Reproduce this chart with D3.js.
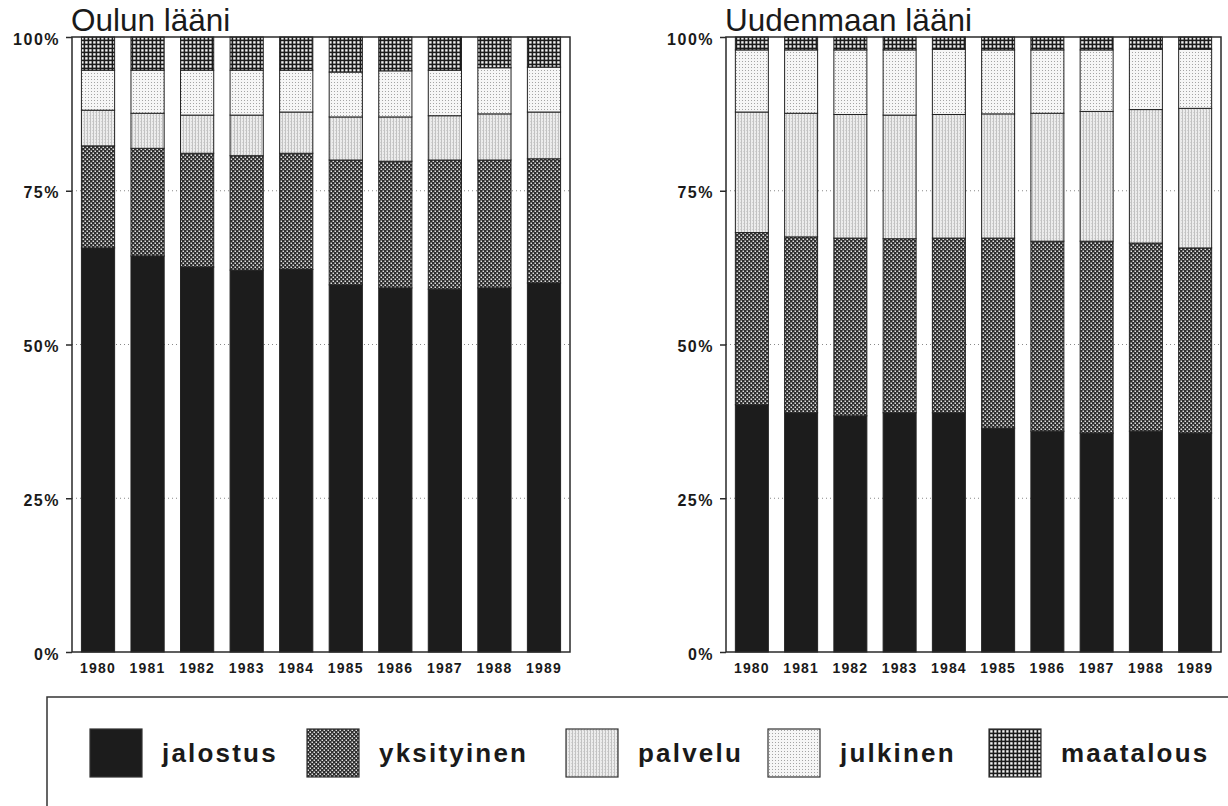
<!DOCTYPE html>
<html>
<head>
<meta charset="utf-8">
<script src="https://cdn.jsdelivr.net/npm/d3@7"></script>
<style>
  html, body { margin: 0; padding: 0; background: #fff; }
  svg { display: block; }
  text { font-family: "Liberation Sans", Arial, sans-serif; fill: #1a1a1a; }
</style>
</head>
<body>
<svg id="chart" width="1228" height="806"></svg>
<script>
// ---- data (percent shares, bottom to top) ----
const years = ["1980","1981","1982","1983","1984","1985","1986","1987","1988","1989"];
const seriesNames = ["jalostus","yksityinen","palvelu","julkinen","maatalous"];
const yTicks = [0, 25, 50, 75, 100];

const ouluJalostus   = [65.7, 64.4, 62.6, 62.1, 62.2, 59.7, 59.2, 59.0, 59.2, 60.0];
const ouluYksityinen = [16.6, 17.5, 18.5, 18.6, 18.9, 20.3, 20.6, 21.0, 20.8, 20.2];
const ouluPalvelu    = [5.8, 5.7, 6.2, 6.6, 6.7, 7.0, 7.2, 7.2, 7.5, 7.6];
const ouluJulkinen   = [6.5, 7.0, 7.3, 7.3, 6.8, 7.3, 7.5, 7.4, 7.5, 7.3];
const ouluMaatalous  = [5.4, 5.4, 5.4, 5.4, 5.4, 5.7, 5.5, 5.4, 5.0, 4.9];

const uusiJalostus   = [40.2, 38.9, 38.4, 38.9, 38.9, 36.4, 35.9, 35.6, 35.9, 35.6];
const uusiYksityinen = [28.0, 28.6, 28.9, 28.3, 28.4, 30.9, 30.9, 31.2, 30.6, 30.1];
const uusiPalvelu    = [19.6, 20.1, 20.1, 20.1, 20.1, 20.2, 20.8, 21.1, 21.7, 22.7];
const uusiJulkinen   = [10.1, 10.3, 10.5, 10.6, 10.6, 10.4, 10.3, 10.0, 9.8, 9.6];
const uusiMaatalous  = [2.1, 2.1, 2.1, 2.1, 2.0, 2.1, 2.1, 2.1, 2.0, 2.0];

// legend layout (left edge of each swatch)
const legendSwatchX = [90, 307, 566, 768, 989];

function buildTable(cols) {
  return years.map((y, i) => {
    const row = { year: y };
    seriesNames.forEach((s, j) => row[s] = cols[j][i]);
    return row;
  });
}
const panels = [
  { title: "Oulun lääni", table: buildTable([ouluJalostus, ouluYksityinen, ouluPalvelu, ouluJulkinen, ouluMaatalous]), x0: 72, x1: 570 },
  { title: "Uudenmaan lääni", table: buildTable([uusiJalostus, uusiYksityinen, uusiPalvelu, uusiJulkinen, uusiMaatalous]), x0: 726, x1: 1221 }
];

const svg = d3.select("#chart");
const defs = svg.append("defs");

// ---- fill patterns ----
function pattern(id, w, h, bg, shapes) {
  const p = defs.append("pattern").attr("id", id).attr("patternUnits", "userSpaceOnUse")
    .attr("width", w).attr("height", h);
  p.append("rect").attr("width", w).attr("height", h).attr("fill", bg);
  shapes.forEach(s => p.append("rect").attr("x", s[0]).attr("y", s[1]).attr("width", s[2]).attr("height", s[3]).attr("fill", s[4]));
}
pattern("p-yks", 4, 4, "#2e2e2e", [[0.5, 0.5, 1.5, 1.5, "#e0e0e0"], [2.5, 2.5, 1.5, 1.5, "#e0e0e0"]]);
pattern("p-pal", 3, 3, "#ececec", [[0, 0, 1, 3, "#c2c2c2"], [2, 1, 1, 1, "#d2d2d2"]]);
pattern("p-jul", 3, 3, "#f6f6f6", [[1, 1, 1, 1, "#a4a4a4"]]);
pattern("p-maa", 4, 4, "#1c1c1c", [[1.2, 1.2, 2.4, 2.4, "#f2f2f2"]]);

const fills = {
  jalostus: "#1c1c1c",
  yksityinen: "url(#p-yks)",
  palvelu: "url(#p-pal)",
  julkinen: "url(#p-jul)",
  maatalous: "url(#p-maa)"
};

const yTop = 37, yBot = 652;
const y = d3.scaleLinear().domain([0, 100]).range([yBot, yTop]);
const stack = d3.stack().keys(seriesNames);

panels.forEach(pn => {
  const g = svg.append("g");
  const x = d3.scaleBand().domain(years).range([pn.x0, pn.x1]).paddingInner(0.33).paddingOuter(0.19);

  // title
  g.append("text").attr("x", pn.x0 - 1).attr("y", 31)
    .style("font-size", "31.5px").text(pn.title);

  // dotted gridlines
  g.selectAll("line.grid").data(yTicks.filter(t => t > 0 && t < 100)).join("line")
    .attr("class", "grid")
    .attr("x1", pn.x0).attr("x2", pn.x1)
    .attr("y1", d => y(d)).attr("y2", d => y(d))
    .attr("stroke", "#888").attr("stroke-width", 1).attr("stroke-dasharray", "1,3");

  // bars
  const layers = stack(pn.table);
  g.selectAll("g.layer").data(layers).join("g").attr("class", "layer")
    .attr("fill", d => fills[d.key])
    .selectAll("rect").data(d => d).join("rect")
    .attr("x", d => x(d.data.year))
    .attr("width", x.bandwidth())
    .attr("y", d => y(d[1]))
    .attr("height", d => y(d[0]) - y(d[1]))
    .attr("stroke", "#222").attr("stroke-width", 1);

  // frame
  g.append("rect").attr("x", pn.x0).attr("y", yTop).attr("width", pn.x1 - pn.x0).attr("height", yBot - yTop)
    .attr("fill", "none").attr("stroke", "#2a2a2a").attr("stroke-width", 1.5);

  // y axis
  const ya = g.append("g").attr("transform", `translate(${pn.x0},0)`)
    .call(d3.axisLeft(y).tickValues(yTicks).tickFormat(d => d + "%").tickSize(6).tickPadding(6));
  ya.select(".domain").remove();
  ya.selectAll(".tick line").attr("stroke", "#2a2a2a").attr("stroke-width", 1.5);
  ya.selectAll(".tick text").attr("fill", "#1a1a1a").attr("dy", "0.45em")
    .style("font-size", "16px").style("font-weight", "bold").style("letter-spacing", "1.5px")
    .style("font-family", "'Liberation Sans', Arial, sans-serif");

  // x axis
  const xa = g.append("g").attr("transform", `translate(0,${yBot})`)
    .call(d3.axisBottom(x).tickSize(0).tickPadding(11));
  xa.select(".domain").remove();
  xa.selectAll(".tick text").attr("fill", "#1a1a1a")
    .style("font-size", "14px").style("font-weight", "bold").style("letter-spacing", "1.2px")
    .style("font-family", "'Liberation Sans', Arial, sans-serif");
});

// ---- legend ----
const legend = svg.append("g");
legend.append("rect").attr("x", 47).attr("y", 697).attr("width", 1200).attr("height", 140)
  .attr("fill", "none").attr("stroke", "#333").attr("stroke-width", 1.5);
const items = legend.selectAll("g.item").data(seriesNames).join("g").attr("class", "item")
  .attr("transform", (d, i) => `translate(${legendSwatchX[i]},729)`);
items.append("rect").attr("width", 52).attr("height", 48)
  .attr("fill", d => fills[d]).attr("stroke", "#333").attr("stroke-width", 1.2);
items.append("text").attr("x", 72).attr("y", 33)
  .style("font-size", "26px").style("font-weight", "bold").style("letter-spacing", "2.2px")
  .text(d => d);
</script>
</body>
</html>
